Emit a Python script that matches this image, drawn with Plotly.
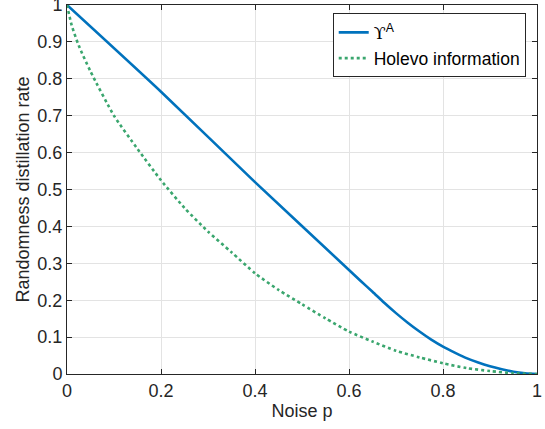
import plotly.graph_objects as go

# Upsilon^A curve
p_ups = [0, 0.2, 0.4, 0.6, 0.625, 0.65, 0.675, 0.7, 0.725, 0.75, 0.775, 0.8,
         0.825, 0.85, 0.875, 0.9, 0.925, 0.95, 0.975, 1.0]
v_ups = [1.0, 0.765, 0.52, 0.282, 0.252, 0.223, 0.193, 0.165, 0.139, 0.115, 0.093, 0.074,
         0.058, 0.043, 0.031, 0.021, 0.013, 0.006, 0.002, 0.0]

# Holevo information curve
p_hol = [0, 0.01, 0.025, 0.05, 0.1, 0.15, 0.2, 0.25, 0.3, 0.35, 0.4, 0.45, 0.5,
         0.55, 0.6, 0.65, 0.7, 0.75, 0.8, 0.85, 0.9, 0.95, 1.0]
v_hol = [1.0, 0.945, 0.89, 0.82, 0.70, 0.61, 0.525, 0.45, 0.386, 0.33, 0.273, 0.228, 0.189,
         0.151, 0.115, 0.088, 0.063, 0.045, 0.029, 0.016, 0.008, 0.002, 0.0]

x_ticks = [0, 0.2, 0.4, 0.6, 0.8, 1]
x_labels = ["0", "0.2", "0.4", "0.6", "0.8", "1"]
y_ticks = [0, 0.1, 0.2, 0.3, 0.4, 0.5, 0.6, 0.7, 0.8, 0.9, 1]
y_labels = ["0", "0.1", "0.2", "0.3", "0.4", "0.5", "0.6", "0.7", "0.8", "0.9", "1"]

FONT = "Liberation Sans, Arial, sans-serif"
AX = "#262626"
FS = 18

fig = go.Figure()
fig.add_trace(go.Scatter(
    x=p_ups, y=v_ups, mode="lines",
    name="<span style='font-family:DejaVu Serif'>ϒ</span><sup>A</sup>",
    line=dict(color="#0072BD", width=2.6, shape="spline", smoothing=0.6)))
fig.add_trace(go.Scatter(
    x=p_hol, y=v_hol, mode="lines", name="Holevo information",
    line=dict(color="#3aa66e", width=2.6, dash="dot", shape="spline", smoothing=0.6)))

axis_common = dict(showgrid=True, gridcolor="#e3e3e3", gridwidth=1,
                   showline=True, linecolor=AX, linewidth=1, mirror="allticks",
                   ticks="inside", ticklen=5, tickcolor=AX, zeroline=False,
                   ticklabeloverflow="allow", automargin=False,
                   tickfont=dict(family=FONT, size=FS, color=AX))

fig.update_xaxes(range=[0, 1], tickvals=x_ticks, ticktext=x_labels,
                 title=dict(text="Noise p", font=dict(family=FONT, size=FS, color=AX), standoff=4),
                 **axis_common)
fig.update_yaxes(range=[0, 1], tickvals=y_ticks, ticktext=y_labels,
                 title=dict(text="Randomness distillation rate", font=dict(family=FONT, size=FS, color=AX), standoff=3),
                 **axis_common)

fig.update_layout(
    width=545, height=429,
    margin=dict(l=67, r=8, t=5, b=55, autoexpand=False),
    plot_bgcolor="white", paper_bgcolor="white",
    font=dict(family=FONT, size=FS, color=AX),
    legend=dict(x=0.976, y=0.977, xanchor="right", yanchor="top",
                bgcolor="white", bordercolor=AX, borderwidth=1,
                font=dict(family=FONT, size=17.5, color="black"),
                tracegroupgap=0),
    showlegend=True,
)

fig.write_html("out.html", config={"displayModeBar": False},
               post_script="document.body.style.margin='0';")
